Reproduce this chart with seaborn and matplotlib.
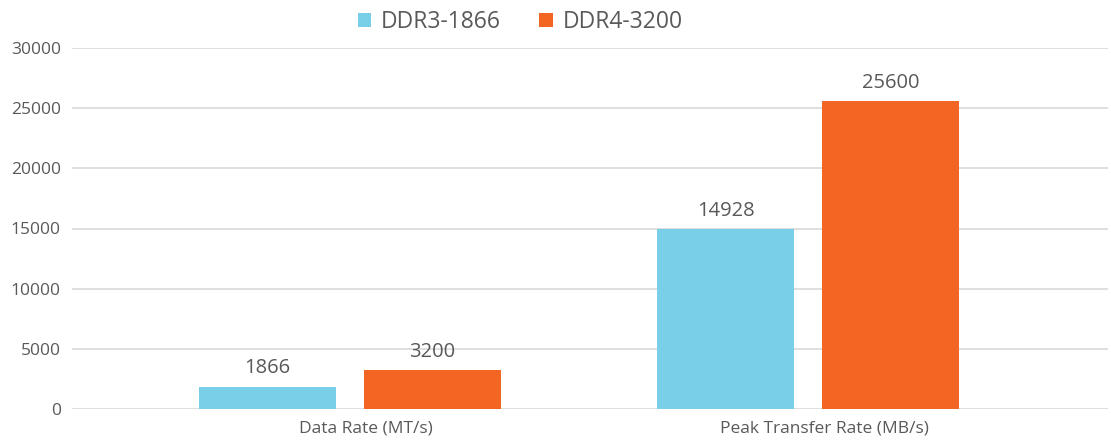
import matplotlib
matplotlib.use("Agg")
import matplotlib.pyplot as plt
from matplotlib.transforms import ScaledTranslation
from matplotlib.patches import Patch
import seaborn as sns
import pandas as pd

categories = ["Data Rate (MT/s)", "Peak Transfer Rate (MB/s)"]
series_names = ["DDR3-1866", "DDR4-3200"]
ddr3_values = [1866, 14928]
ddr4_values = [3200, 25600]
y_ticks = [0, 5000, 10000, 15000, 20000, 25000, 30000]

colors = ["#7ACFE8", "#F26522"]
text_color = "#595959"
grid_color = "#D9D9D9"

df = pd.DataFrame({
    "category": categories * 2,
    "series": [series_names[0]] * 2 + [series_names[1]] * 2,
    "value": ddr3_values + ddr4_values,
})

sns.set_theme(style="white")
plt.rcParams["font.family"] = ["Open Sans", "DejaVu Sans"]

fig = plt.figure(figsize=(11.11, 4.43), dpi=100)
ax = fig.add_axes([72 / 1111, 34 / 443, 1036 / 1111, 361 / 443])

sns.barplot(data=df, x="category", y="value", hue="series",
            palette=colors, width=0.72, gap=0.17, saturation=1,
            linewidth=0, edgecolor="none", legend=False, ax=ax)

ax.set_ylim(0, 30000)
ax.set_xlim(-0.607, 1.655)
ax.set_yticks(y_ticks)
ax.set_yticklabels([str(t) for t in y_ticks])
ax.set_xlabel("")
ax.set_ylabel("")
ax.grid(axis="y", color=grid_color, linewidth=1.2)
ax.set_axisbelow(True)
for s in ax.spines.values():
    s.set_visible(False)
ax.tick_params(axis="both", length=0, colors=text_color, labelsize=12.5)
ax.tick_params(axis="y", pad=8)
ax.tick_params(axis="x", pad=8)

offset = ScaledTranslation(16 / 100, 0, fig.dpi_scale_trans)
for lab in ax.get_xticklabels():
    lab.set_transform(lab.get_transform() + offset)

for cont in ax.containers:
    ax.bar_label(cont, labels=[f"{int(v)}" for v in cont.datavalues],
                 padding=6, fontsize=14.5, color=text_color)

handles = [Patch(facecolor=c, edgecolor="none") for c in colors]
fig.legend(handles, series_names, loc="center", bbox_to_anchor=(520 / 1111, 1 - 22 / 443),
           ncol=2, frameon=False, fontsize=16.5, labelcolor=text_color,
           handlelength=0.6, handleheight=0.6, handletextpad=0.4, columnspacing=1.7)

fig.savefig("out.png", dpi=100)
